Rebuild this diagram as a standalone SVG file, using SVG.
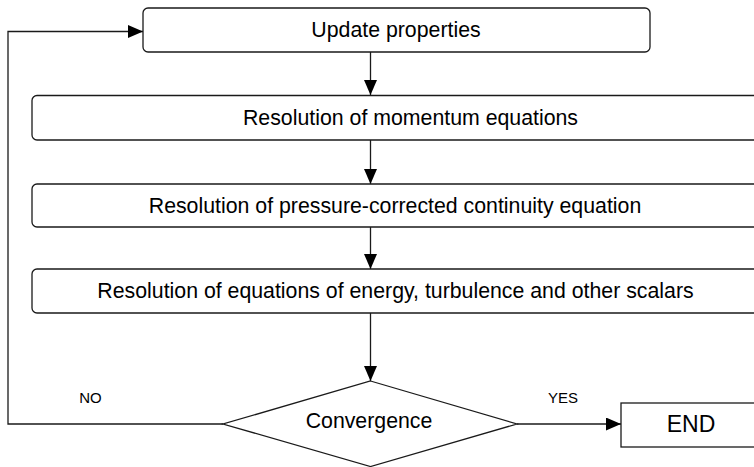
<svg xmlns="http://www.w3.org/2000/svg" width="754" height="467" viewBox="0 0 754 467">
<defs>
<marker id="arr" markerUnits="userSpaceOnUse" markerWidth="15" markerHeight="13" refX="15" refY="6.5" orient="auto">
<path d="M0,0 L15,6.5 L0,13 z" fill="#000"/>
</marker>
<style>
.box{fill:#fff;stroke:#1a1a1a;stroke-width:1.3}
.t{font-family:"Liberation Sans",Arial,sans-serif;font-size:21.3px;fill:#000;text-anchor:middle}
.s{font-family:"Liberation Sans",Arial,sans-serif;font-size:15px;fill:#000;text-anchor:middle}
.c{fill:none;stroke:#1a1a1a;stroke-width:1.3}
</style>
</defs>
<rect width="754" height="467" fill="#fff"/>
<g id="connectors">
<line class="c" x1="370.5" y1="52" x2="370.5" y2="95" marker-end="url(#arr)"/>
<line class="c" x1="370.5" y1="140" x2="370.5" y2="184" marker-end="url(#arr)"/>
<line class="c" x1="370.5" y1="227" x2="370.5" y2="269" marker-end="url(#arr)"/>
<line class="c" x1="370.5" y1="313" x2="370.5" y2="381" marker-end="url(#arr)"/>
<polyline class="c" points="223,424 8,424 8,31.5 143,31.5" marker-end="url(#arr)"/>
<line class="c" x1="517" y1="424" x2="621" y2="424" marker-end="url(#arr)"/>
<text class="s" x="90.5" y="403">NO</text>
<text class="s" x="563" y="403">YES</text>
</g>
<g id="update">
<rect class="box" x="143" y="8" width="507" height="44" rx="5"/>
<text class="t" x="396" y="37">Update properties</text>
</g>
<g id="momentum">
<rect class="box" x="32" y="95.5" width="760" height="44.5" rx="5"/>
<text class="t" x="410.5" y="124.5">Resolution of momentum equations</text>
</g>
<g id="pressure">
<rect class="box" x="32" y="184" width="760" height="43" rx="5"/>
<text class="t" x="395" y="212.5">Resolution of pressure-corrected continuity equation</text>
</g>
<g id="energy">
<rect class="box" x="32" y="269" width="760" height="44" rx="5"/>
<text class="t" x="395.5" y="297.5">Resolution of equations of energy, turbulence and other scalars</text>
</g>
<g id="convergence">
<polygon class="box" points="370.5,381 517,424 370.5,466.5 223,424"/>
<text class="t" x="369" y="427.5">Convergence</text>
</g>
<g id="end">
<rect class="box" x="621" y="403" width="160" height="44"/>
<text class="t" x="691" y="432" style="font-size:23px">END</text>
</g>
</svg>
